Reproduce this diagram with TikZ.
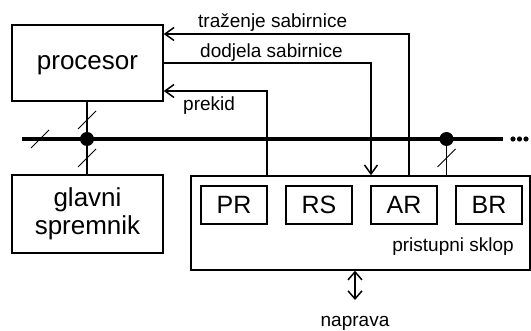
\documentclass[tikz,border=0pt]{standalone}
\usepackage{fontspec}
\setmainfont{Liberation Sans}
\usetikzlibrary{arrows.meta, positioning}
\tikzset{blok/.style={draw,line width=1.5pt,minimum width=151pt,minimum height=76pt,inner sep=0pt,align=center,font=\fontsize{26}{28}\selectfont}}
\tikzset{reg/.style={draw,line width=1.5pt,minimum width=66pt,minimum height=38pt,inner sep=0pt,font=\fontsize{25}{25}\selectfont}}
\tikzset{lbl/.style={inner sep=0pt,font=\fontsize{19}{19}\selectfont}}
\tikzset{point/.style={circle,fill=black,inner sep=0pt,minimum size=14pt}}
\tikzset{sig/.style={line width=1.5pt,-{Straight Barb[length=9pt,width=13pt]}}}
\tikzset{crta/.style={line width=0.8pt}}

\begin{document}
\begin{tikzpicture}[x=1pt,y=-1pt]
      \useasboundingbox (0,0) rectangle (531,331);
      \node[blok,text depth=0pt] (proc) at (87.5,63) {procesor};
      \node[blok,minimum height=78pt] (mem) at (87.5,214) {glavni\\spremnik};
      \node[blok,minimum width=339pt,minimum height=94pt] (sklop) at (360.5,223) {};
      \foreach \r [count=\i from 0] in {PR,RS,AR,BR}
        \node[reg] (\r) at (234+85*\i,205) {\r};
      \node[lbl,anchor=base east] (ime) at (514,252) {pristupni sklop};

      \coordinate (busL) at (22,139);
      \coordinate (busR) at (503,139);
      \draw[line width=4.3pt] (busL) -- (busR);
      \node[point] (j1) at (87,139) {};
      \node[point] (j2) at (446.5,139) {};
      \draw[line width=1.6pt] (j1 |- proc.south) -- (j1 |- mem.north);
      \draw[line width=1.6pt] (j2) -- (j2 |- sklop.north);
      \foreach \x in {513,519.5,526} \fill (\x,139) circle (2.6pt);
      \foreach \x/\y in {40/139,87/120,87/158,446.5/158}
        \draw[crta] (\x,\y) ++(-9,9) -- ++(18,-18);

      \coordinate (tr) at (409,34);
      \coordinate (dd) at (371,63);
      \coordinate (pk) at (267,91);
      \draw[sig] (tr |- sklop.north) |- (proc.east |- tr);
      \draw[sig] (proc.east |- dd) -| (dd |- sklop.north);
      \draw[sig] (pk |- sklop.north) |- (proc.east |- pk);
      \node[lbl,anchor=base west] (trazenje) at (198,28) {traženje sabirnice};
      \node[lbl,anchor=base west] (dodjela) at (200,58) {dodjela sabirnice};
      \node[lbl,anchor=base west] (prekid) at (183,111) {prekid};

      \coordinate (io) at (355,300);
      \draw[line width=1.5pt,{Straight Barb[length=8pt,width=14pt]}-{Straight Barb[length=8pt,width=14pt]}] (sklop.south -| io) -- (io);
      \node[lbl,anchor=base] (naprava) at (io |- 0,327) {naprava};
  \end{tikzpicture}
\end{document}
